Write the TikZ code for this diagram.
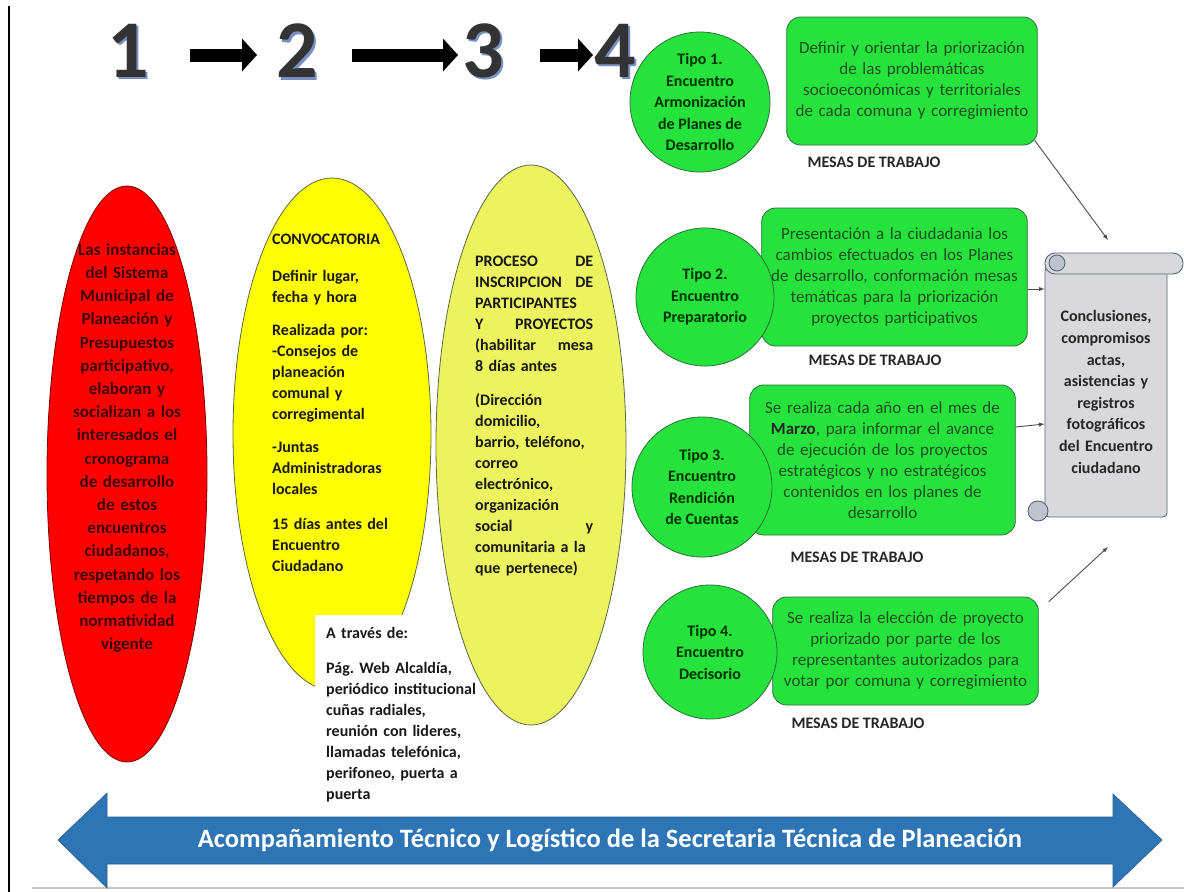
\documentclass[tikz,border=0pt]{standalone}
\usepackage{fontspec}
\setmainfont{Carlito}
\usepackage{xcolor}
\usetikzlibrary{arrows,arrows.meta,positioning,shapes.geometric}

\definecolor{rojo}{RGB}{255,0,0}
\definecolor{rojotxt}{RGB}{60,0,0}
\definecolor{amarillo}{RGB}{255,255,0}
\definecolor{amarillocl}{RGB}{236,243,95}
\definecolor{verde}{RGB}{38,226,60}
\definecolor{verdeosc}{RGB}{45,110,60}
\definecolor{textoverde}{RGB}{30,80,35}
\definecolor{borde}{RGB}{90,105,70}
\definecolor{gris}{RGB}{217,217,219}
\definecolor{grisosc}{RGB}{190,195,205}
\definecolor{grisazul}{RGB}{85,100,125}
\definecolor{azul}{RGB}{46,117,182}
\definecolor{sombra}{RGB}{120,145,195}
\newcommand{\cifra}[1]{\rlap{\hspace{2.5pt}\raisebox{-2.5pt}{\textcolor{sombra}{#1}}}#1}

\begin{document}
\begin{tikzpicture}[x=1pt,y=-1pt,
  num/.style={inner sep=0pt,text=black!80,font=\fontsize{82}{84}\selectfont\bfseries},
  flechan/.style={line width=13pt,-{Triangle[length=15pt,width=32pt]}},
  elipse/.style={ellipse,draw=borde,line width=0.8pt,inner sep=0pt},
  texto/.style={inner sep=0pt,font=\fontsize{16}{21}\selectfont\bfseries,text=black!90},
  caja/.style={rectangle,rounded corners=14pt,draw=verdeosc,fill=verde,line width=0.8pt,align=center,text=textoverde,font=\fontsize{17}{21}\selectfont},
  circulo/.style={circle,draw=verdeosc,fill=verde,line width=0.8pt,inner sep=0pt,align=center,text=black!80!green,font=\fontsize{16}{21.5}\selectfont\bfseries},
  mesa/.style={font=\fontsize{16}{20}\selectfont\bfseries,text=black!85},
  rollo/.style={draw=grisazul,fill=gris,line width=0.9pt},
  conector/.style={-latex,draw=black!70,line width=0.9pt}]
\useasboundingbox (0,0) rectangle (1184,892);
\draw[line width=2pt] (9,6) -- (9,892);
\draw[gray!45,line width=2pt] (32,888) -- (1184,888);

\node[num] (n1) at (128,52){\cifra{1}};
\node[num] (n2) at (297,52){\cifra{2}};
\node[num] (n3) at (483,52){\cifra{3}};
\node[num] (n4) at (615,52){\cifra{4}};
\draw[flechan] ([xshift=41pt,yshift=-3pt]n1.east) -- ([xshift=-19pt,yshift=-3pt]n2.west);
\draw[flechan] ([xshift=34pt,yshift=-3pt]n2.east) -- ([xshift=-4pt,yshift=-3pt]n3.west);
\draw[flechan] ([xshift=36pt,yshift=-3pt]n3.east) -- ([xshift=-1pt,yshift=-3pt]n4.west);

\node[elipse,fill=rojo,draw=red!50!black,minimum width=160pt,minimum height=576pt] (er) at (127,474){};
\node[texto,text width=125pt,align=center,text=rojotxt,font=\fontsize{17}{23.2}\selectfont\bfseries] (tr) at (127,448){Las instancias\\del Sistema\\Municipal de\\Planeación y\\Presupuestos\\participativo,\\elaboran y\\socializan a los\\interesados el\\cronograma\\de desarrollo\\de estos\\encuentros\\ciudadanos,\\respetando los\\tiempos de la\\normatividad\\vigente};

\node[elipse,fill=amarillo,minimum width=198pt,minimum height=512pt] (ea) at (332,434){};
\node[texto,anchor=north west,text width=150pt,align=left] (ta) at (272,234){CONVOCATORIA\\[16pt]Definir lugar,\\fecha y hora\\[12pt]Realizada por:\\-Consejos de\\planeación\\comunal y\\corregimental\\[12pt]-Juntas\\Administradoras\\locales\\[14pt]15 días antes del\\Encuentro\\Ciudadano};

\node[fill=white,anchor=north west,inner xsep=11pt,inner ysep=12pt,text width=150pt,align=left,font=\fontsize{16}{21}\selectfont\bfseries,text=black!90] (wb) at (315,615){A través de:\\[14pt]Pág.\ Web Alcaldía,\\periódico institucional\\cuñas radiales,\\reunión con lideres,\\llamadas telefónica,\\perifoneo, puerta a\\puerta};

\node[elipse,fill=amarillocl,minimum width=190pt,minimum height=560pt] (ev) at (531,445){};
\node[texto,anchor=north west,text width=118pt,align=left] (tv) at (475,256){PROCESO\hfill DE\\INSCRIPCION\hfill DE\\PARTICIPANTES\\Y\hfill PROYECTOS\\(habilitar\hfill mesa\\8 días antes\\[13pt](Dirección\\domicilio,\\barrio, teléfono,\\correo\\electrónico,\\organización\\social\hfill y\\comunitaria a la\\que pertenece)};

\node[caja,minimum width=250pt,minimum height=128pt,text width=244pt] (b1) at (912,81){Definir y orientar la priorización\\de las problemáticas\\socioeconómicas y territoriales\\de cada comuna y corregimiento};
\node[caja,minimum width=265pt,minimum height=138pt,text width=259pt] (b2) at (894.5,277){Presentación a la ciudadania los\\cambios efectuados en los Planes\\de desarrollo, conformación mesas\\temáticas para la priorización\\proyectos participativos};
\node[caja,minimum width=265pt,minimum height=150pt,text width=259pt] (b3) at (882.5,460){Se realiza cada año en el mes de\\\textbf{\color{black!85}Marzo}, para informar el avance\\de ejecución de los proyectos\\estratégicos y no estratégicos\\contenidos en los planes de\\desarrollo};
\node[caja,minimum width=265pt,minimum height=108pt,text width=259pt] (b4) at (905.5,651){Se realiza la elección de proyecto\\priorizado por parte de los\\representantes autorizados para\\votar por comuna y corregimiento};

\node[circulo,minimum size=140pt] (c1) at (700,102){Tipo 1.\\Encuentro\\Armonización\\de Planes de\\Desarrollo};
\node[circulo,minimum size=138pt] (c2) at (705,297){Tipo 2.\\Encuentro\\Preparatorio};
\node[circulo,minimum size=140pt] (c3) at (702,487){Tipo 3.\\Encuentro\\Rendición\\de Cuentas};
\node[circulo,minimum size=134pt] (c4) at (710,652){Tipo 4.\\Encuentro\\Decisorio};

\node[mesa] (m1) at (874,162){MESAS DE TRABAJO};
\node[mesa] (m2) at (875,360){MESAS DE TRABAJO};
\node[mesa] (m3) at (857,557){MESAS DE TRABAJO};
\node[mesa] (m4) at (858,723){MESAS DE TRABAJO};

\node[rollo,rectangle,rounded corners=4pt,minimum width=122pt,minimum height=250pt,text width=110pt,align=center,font=\fontsize{16}{21.6}\selectfont\bfseries,text=black!85] (pg) at (1106,392){Conclusiones,\\compromisos\\actas,\\asistencias y\\registros\\fotográficos\\del Encuentro\\ciudadano};
\draw[rollo,rounded corners=10pt] (1045,253) rectangle (1183,274);
\draw[rollo,fill=grisosc] (1057,263) circle (8pt);
\draw[rollo,fill=grisosc] (1038,511) circle (10pt);

\coordinate (k1) at (1108,240);
\coordinate (k4) at (1108,547);
\draw[conector] ([xshift=-3pt,yshift=5pt]b1.south east) -- (k1);
\draw[conector] ([yshift=-12pt]b2.east) -- ([yshift=-12pt]b2.east -| pg.west);
\draw[conector] ([yshift=33pt]b3.east) -- ([yshift=36pt]b3.east -| pg.west);
\draw[conector] ([xshift=10pt,yshift=-5pt]b4.north east) -- (k4);

\draw[fill=azul,draw=azul!80!black,line width=0.6pt] (58,840) -- (107,793) -- (107,817) -- (1113,817) -- (1113,794) -- (1162,840) -- (1113,887) -- (1113,864) -- (107,864) -- (107,888) -- cycle;
\node[text=white,font=\fontsize{26.5}{28}\selectfont\bfseries] (fl) at (610,840){Acompañamiento Técnico y Logístico de la Secretaria Técnica de Planeación};
\end{tikzpicture}
\end{document}
